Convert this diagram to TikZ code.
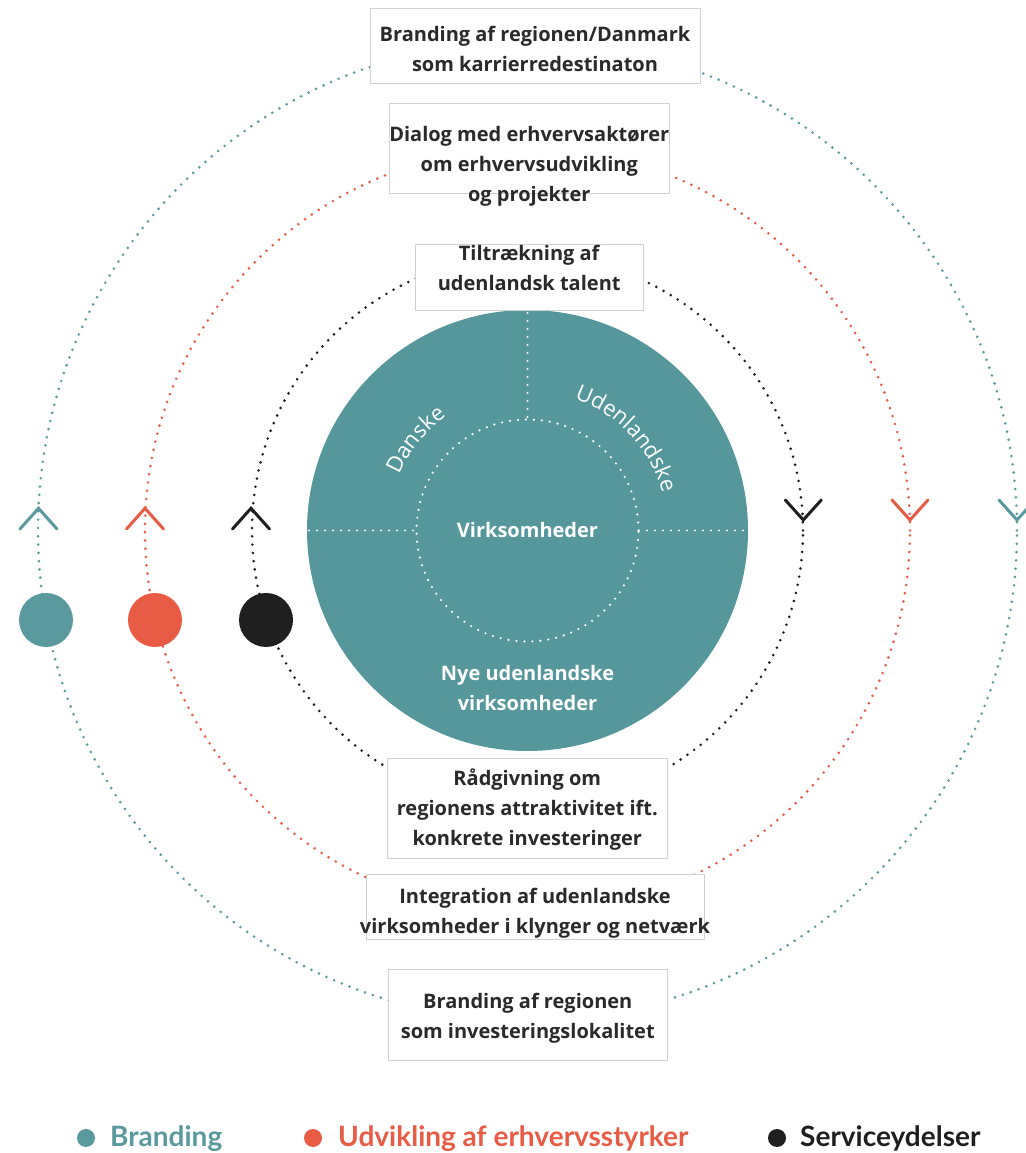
\documentclass[tikz,border=0pt]{standalone}
\usepackage{fontspec}
\setmainfont{Open Sans}
\newfontfamily\legendfont{Lato}
\usetikzlibrary{decorations.text,calc}
\definecolor{tealc}{HTML}{5A999E}
\definecolor{tealbig}{HTML}{56979C}
\definecolor{redc}{HTML}{E85B45}
\definecolor{blkc}{HTML}{1F1F1F}
\definecolor{boxgray}{HTML}{D2D2D2}
\definecolor{txtc}{HTML}{2A2A2A}
\tikzset{
  dotline/.style={line width=2.9pt, line cap=round, dash pattern=on 0pt off 8.3pt},
  wdotline/.style={white, line width=2.4pt, line cap=round, dash pattern=on 0pt off 8pt},
  chev/.style={line width=3pt, line cap=round, line join=miter},
  box/.style={draw=boxgray, line width=0.9pt, fill=white, inner sep=0pt},
  boxtext/.style={font=\fontsize{20}{30}\selectfont\bfseries, text=txtc, align=center, inner sep=0pt},
  intext/.style={font=\fontsize{20}{30}\selectfont\bfseries, text=white, align=center, inner sep=0pt},
  dotnode/.style={circle, inner sep=0pt, minimum size=54pt},
  legdot/.style={circle, inner sep=0pt, minimum size=18pt},
  legtext/.style={font=\legendfont\fontsize{28}{28}\selectfont\bfseries, anchor=base west, inner sep=0pt},
  curvetext/.style={decorate, decoration={text along path, text align=center, text color=white, text={|\fontsize{22}{22}\selectfont|#1}}}
}
\begin{document}
\begin{tikzpicture}[x=1pt,y=1pt]
\useasboundingbox (0,0) rectangle (1025,1153);
\coordinate (C) at (527.5,622.5);
% dotted orbits
\draw[dotline, tealc] (C) circle[radius=489.5];
\draw[dotline, redc] (C) circle[radius=382.5];
\draw[dotline, blkc] (C) circle[radius=275.5];
% chevrons
\coordinate (ul1) at (38.5,644.7);
\coordinate (ul2) at (145,644.7);
\coordinate (ul3) at (251,644.7);
\coordinate (dr1) at (803.3,633);
\coordinate (dr2) at (910,633);
\coordinate (dr3) at (1017,633);
\draw[chev, tealc] (ul1) ++(-18.5,-20.7) -- (ul1) -- ++(18.5,-20.7);
\draw[chev, redc] (ul2) ++(-18.5,-20.7) -- (ul2) -- ++(18.5,-20.7);
\draw[chev, blkc] (ul3) ++(-18.5,-20.7) -- (ul3) -- ++(18.5,-20.7);
\draw[chev, blkc] (dr1) ++(-18,20) -- (dr1) -- ++(18,20);
\draw[chev, redc] (dr2) ++(-18,20) -- (dr2) -- ++(18,20);
\draw[chev, tealc] (dr3) ++(-18,20) -- (dr3) -- ++(18,20);
% filled dots
\node[dotnode, fill=tealc] (d1) at (46,533) {};
\node[dotnode, fill=redc] (d2) at (155,533) {};
\node[dotnode, fill=blkc] (d3) at (266,533) {};
% big circle
\fill[tealbig] (C) circle[radius=220.5];
\draw[wdotline] (C) circle[radius=111];
\draw[wdotline] (527.5,840) -- (527.5,734);
\draw[wdotline] (309,622.5) -- (416,622.5);
\draw[wdotline] (639,622.5) -- (746,622.5);
\node[intext] (vk) at (C) {Virksomheder};
\node[intext] (nye) at (527.5,464.7) {Nye udenlandske\\virksomheder};
\path[curvetext=Danske] ($(C)+(175:140)$) arc[start angle=175, end angle=107, radius=140];
\path[curvetext=Udenlandske] ($(C)+(90:140)$) arc[start angle=90, end angle=-4, radius=140];
% boxes
\node[box, minimum width=330pt, minimum height=75pt] (b1) at (535,1107.2) {};
\node[boxtext] (t1) at (535,1104) {Branding af regionen/Danmark\\som karrierredestinaton};
\node[box, minimum width=280pt, minimum height=90pt] (b2) at (529.3,1004.7) {};
\node[boxtext] (t2) at (529.3,986.3) {Dialog med erhvervsaktører\\om erhvervsudvikling\\og projekter};
\node[box, minimum width=228pt, minimum height=66pt] (b3) at (529.2,875.8) {};
\node[boxtext] (t3) at (529.2,884.7) {Tiltrækning af\\udenlandsk talent};
\node[box, minimum width=280pt, minimum height=100pt] (b4) at (527.3,344.7) {};
\node[boxtext] (t4) at (527.3,343.7) {Rådgivning om\\regionens attraktivitet ift.\\konkrete investeringer};
\node[box, minimum width=338pt, minimum height=65pt] (b5) at (535,246.2) {};
\node[boxtext] (t5) at (535,239.7) {Integration af udenlandske\\virksomheder i klynger og netværk};
\node[box, minimum width=279pt, minimum height=91pt] (b6) at (527.8,138.3) {};
\node[boxtext] (t6) at (527.8,134.7) {Branding af regionen\\som investeringslokalitet};
% legend
\node[legdot, fill=tealc] (l1) at (86,15) {};
\node[legtext, text=tealc] (lt1) at (110,6) {Branding};
\node[legdot, fill=redc] (l2) at (313,15) {};
\node[legtext, text=redc] (lt2) at (338,6) {Udvikling af erhvervsstyrker};
\node[legdot, fill=blkc] (l3) at (777,15) {};
\node[legtext, text=blkc] (lt3) at (800,6) {Serviceydelser};
\end{tikzpicture}
\end{document}
